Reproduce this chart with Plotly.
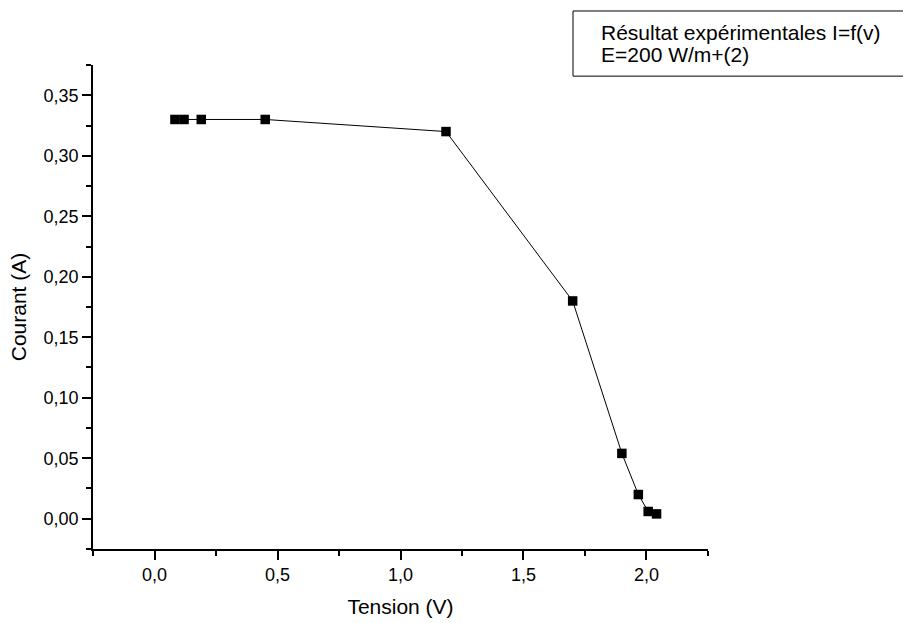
import plotly.graph_objects as go

# Mesures I = f(V) sous E = 200 W/m²
tension = [0.083, 0.12, 0.19, 0.45, 1.185, 1.70, 1.90, 1.967, 2.007, 2.041]
courant = [0.33, 0.33, 0.33, 0.33, 0.32, 0.18, 0.054, 0.02, 0.006, 0.004]

x_ticks = [0.0, 0.5, 1.0, 1.5, 2.0]
y_ticks = [0.00, 0.05, 0.10, 0.15, 0.20, 0.25, 0.30, 0.35]

legend_lines = ["Résultat expérimentales I=f(v)", "E=200 W/m+(2)"]

FONT = "Arial, Liberation Sans, sans-serif"

fig = go.Figure()
fig.add_trace(go.Scatter(
    x=tension, y=courant,
    mode="lines+markers",
    line=dict(color="black", width=1),
    marker=dict(symbol="square", size=9.5, color="black"),
    showlegend=False,
))

axis_common = dict(
    showgrid=False, zeroline=False,
    showline=True, linecolor="black", linewidth=1.6,
    ticks="outside", ticklen=9, tickwidth=1.6, tickcolor="black",
    tickfont=dict(family=FONT, size=18, color="black"),
    mirror=False, automargin=False,
)

fig.update_xaxes(
    **axis_common,
    range=[-0.2502, 2.2502],
    tickvals=x_ticks, tickformat=".1f",
    minor=dict(ticks="outside", ticklen=5, tickwidth=1.6, tickcolor="black",
               tick0=-0.25, dtick=0.25, showgrid=False),
    title=dict(text="Tension (V)", font=dict(family=FONT, size=21, color="black"),
               standoff=15),
)
fig.update_yaxes(
    **axis_common,
    range=[-0.02502, 0.37502],
    tickvals=y_ticks, tickformat=".2f",
    minor=dict(ticks="outside", ticklen=5, tickwidth=1.6, tickcolor="black",
               tick0=-0.025, dtick=0.025, showgrid=False),
    title=dict(text="Courant (A)", font=dict(family=FONT, size=21, color="black"),
               standoff=11),
)

# Cadre de légende (texte seul)
fig.add_shape(type="rect", xref="paper", yref="paper",
              x0=0.7805, x1=1.33, y0=0.977, y1=1.1116,
              line=dict(color="black", width=1), fillcolor="rgba(0,0,0,0)")
for i, txt in enumerate(legend_lines):
    fig.add_annotation(
        xref="paper", yref="paper",
        x=0.8228, y=[1.0671, 1.0217][i],
        xanchor="left", yanchor="middle",
        text=txt, showarrow=False,
        font=dict(family=FONT, size=21, color="black"),
    )

fig.update_layout(
    width=903, height=623,
    margin=dict(l=93, r=195, t=65, b=74),
    plot_bgcolor="white", paper_bgcolor="white",
    separators=", ",
    font=dict(family=FONT, color="black"),
)

fig.write_html("out.html")
